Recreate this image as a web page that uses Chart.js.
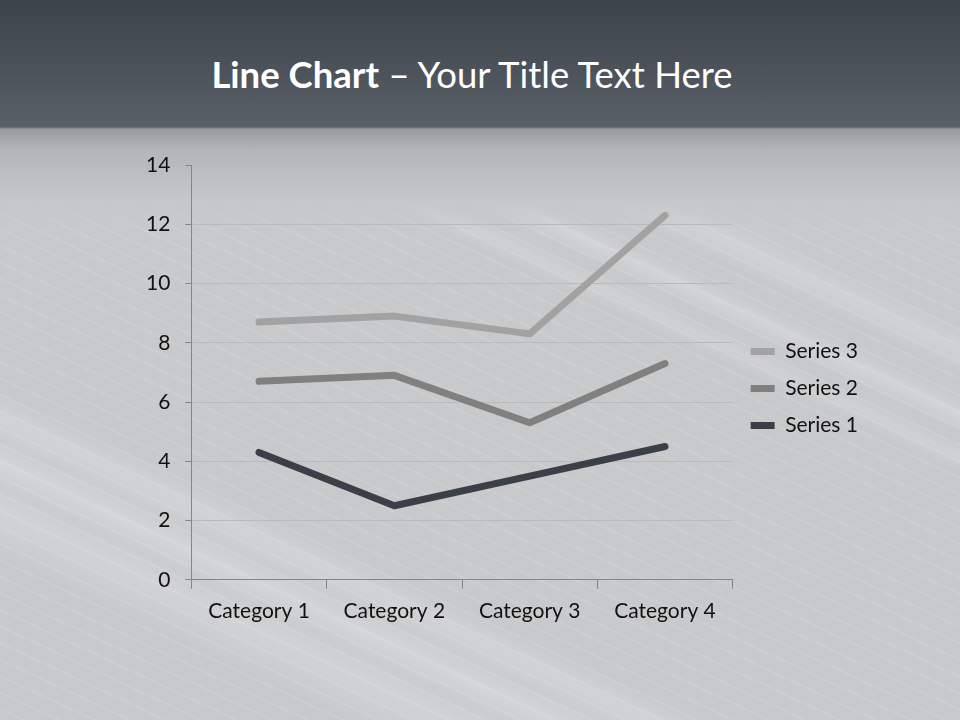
<!DOCTYPE html>
<html>
<head>
<meta charset="utf-8">
<script src="https://cdn.jsdelivr.net/npm/chart.js@4.4.1/dist/chart.umd.min.js"></script>
<style>
  html, body { margin:0; padding:0; }
  body { width:960px; height:720px; overflow:hidden; position:relative;
    background:#c8c9cb; font-family: Lato, "Open Sans", sans-serif; }
  #bg { position:absolute; left:0; top:0; width:960px; height:720px;
    background:
      linear-gradient(to bottom, #3d434b 0px, #4a5058 60px, #5a6068 127px, #989ca2 129px, #b2b5b9 150px, #c6c7c9 200px, rgba(200,201,203,0) 230px),
      repeating-linear-gradient(205deg, rgba(255,255,255,0) 0px, rgba(255,255,255,0) 12px, rgba(255,255,255,0.12) 13px, rgba(255,255,255,0) 15px),
      linear-gradient(205deg, rgba(255,255,255,0) 0%, rgba(255,255,255,0) 28%, rgba(255,255,255,0.16) 30%, rgba(255,255,255,0) 32%, rgba(255,255,255,0) 34%, rgba(255,255,255,0.20) 35.5%, rgba(255,255,255,0) 37%, rgba(255,255,255,0) 38%, rgba(255,255,255,0.14) 39%, rgba(255,255,255,0) 40.5%),
      linear-gradient(205deg, rgba(255,255,255,0) 0%, rgba(255,255,255,0) 72%, rgba(255,255,255,0.18) 74%, rgba(255,255,255,0.06) 76%, rgba(255,255,255,0.22) 78%, rgba(255,255,255,0.05) 80%, rgba(255,255,255,0.18) 82%, rgba(255,255,255,0) 86%),
      #c8c9cb;
  }
  #title { position:absolute; left:0; width:944px; top:52px; text-align:center;
    color:#ffffff; font-size:36.5px; font-family: Lato, "Open Sans", sans-serif; white-space:nowrap; }
  #title b { font-weight:700; }
  #title span { font-weight:400; }
  #wrap { position:absolute; left:0; top:0; width:960px; height:720px; }
</style>
</head>
<body>
<div id="bg"></div>
<div id="title"><b>Line Chart</b><span> – Your Title Text Here</span></div>
<div id="wrap"><canvas id="c" width="960" height="720"></canvas></div>
<script>
const categories = ["Category 1", "Category 2", "Category 3", "Category 4"];
const series1 = [4.3, 2.5, 3.5, 4.5];
const series2 = [2.4, 4.4, 1.8, 2.8];
const series3 = [2.0, 2.0, 3.0, 5.0];
const seriesNames = ["Series 1", "Series 2", "Series 3"];
const seriesColors = ["#3b4048", "#808080", "#a2a2a2"];
const yTicks = [0, 2, 4, 6, 8, 10, 12, 14];

const FONT = "Lato, 'Open Sans', sans-serif";

const ds = [series1, series2, series3].map((d, i) => ({
  label: seriesNames[i],
  data: d,
  borderColor: seriesColors[i],
  backgroundColor: seriesColors[i],
  borderWidth: 7,
  borderCapStyle: 'round',
  borderJoinStyle: 'round',
  pointRadius: 0,
  pointHoverRadius: 0,
  fill: false,
  tension: 0
}));

const legendShift = {
  id: 'legendShift',
  afterLayout(chart) {
    const l = chart.legend;
    if (l) { l.top -= 11; l.bottom -= 11; l.left += 2; l.right += 2; }
  }
};

new Chart(document.getElementById('c'), {
  type: 'line',
  data: { labels: categories, datasets: ds },
  plugins: [legendShift],
  options: {
    responsive: false,
    animation: false,
    devicePixelRatio: 1,
    layout: { padding: { left: 131, top: 165, right: 94, bottom: 86 } },
    plugins: {
      tooltip: { enabled: false },
      legend: {
        position: 'right',
        reverse: true,
        labels: {
          usePointStyle: true,
          pointStyle: 'line',
          pointStyleWidth: 24,
          boxHeight: 7,
          padding: 16,
          color: '#111',
          font: { family: FONT, size: 21 }
        }
      }
    },
    scales: {
      x: {
        offset: true,
        grid: { offset: true, drawOnChartArea: false, tickLength: 9, tickColor: '#858585', lineWidth: 1 },
        border: { display: true, color: '#858585', width: 1 },
        ticks: { color: '#111', font: { family: FONT, size: 21 }, padding: 10 }
      },
      y: {
        stacked: true,
        min: 0, max: 14,
        afterBuildTicks: (axis) => { axis.ticks = yTicks.map(v => ({ value: v })); },
        grid: { color: '#b9babc', lineWidth: 1, tickLength: 6, tickColor: '#858585' },
        border: { display: true, color: '#858585', width: 1 },
        ticks: { color: '#111', font: { family: FONT, size: 21 }, padding: 15 }
      }
    }
  }
});
</script>
</body>
</html>
